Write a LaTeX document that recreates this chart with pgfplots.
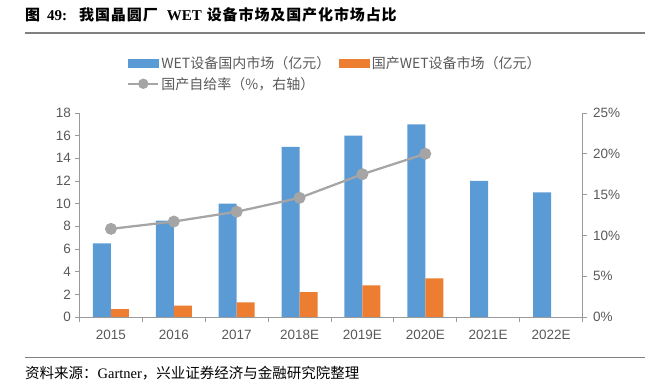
\documentclass[border=0pt]{standalone}
\usepackage{pgfplots}
\pgfplotsset{compat=1.18}
\usepackage{fontspec}
\setmainfont{Liberation Sans}
\newfontfamily\cjk{Noto Sans CJK SC}
\newfontfamily\cjkt{Noto Sans CJK SC}[LetterSpace=6]
\newfontfamily\tnr{Liberation Serif}
\definecolor{cblue}{HTML}{5B9BD5}
\definecolor{corange}{HTML}{ED7D31}
\definecolor{cgray}{HTML}{A5A5A5}
\definecolor{axgray}{HTML}{9A9A9A}
\definecolor{txtgray}{HTML}{595959}
\definecolor{rulegray}{HTML}{808080}
\begin{document}
\begin{tikzpicture}[x=1pt,y=1pt]
\useasboundingbox (0,0) rectangle (656,390);
\node[anchor=west, inner sep=0] at (25,375) {\fontsize{15}{17}\selectfont\bfseries\cjkt 图\hspace{7pt}{\tnr 49:}\hspace{12pt}我国晶圆厂\hspace{9pt}{\tnr WET}\hspace{5pt}设备市场及国产化市场占比};
\draw[rulegray, line width=1.2pt] (25,357) -- (645,357);
\draw[rulegray, line width=0.8pt] (25,33) -- (645,33);
\node[anchor=west, inner sep=0] at (25,17) {\cjk\fontsize{14.5}{16}\selectfont 资料来源：{\tnr Gartner}，兴业证券经济与金融研究院整理};

\pgfplotsset{
  base/.style={
    at={(79.5pt,73pt)}, anchor=south west,
    width=503pt, height=204pt, scale only axis,
    xmin=-0.5, xmax=7.5,
    axis line style={axgray, line width=0.75pt},
    tick style={axgray, line width=0.75pt},
    tick align=outside,
    major tick length=5pt,
    minor tick length=5pt,
    ticklabel style={font=\fontsize{13.5}{16}\selectfont, text=txtgray},
    /pgf/number format/assume math mode=true,
  }
}

\begin{axis}[base,
  ybar, bar width=18pt,
  axis x line*=bottom, axis y line*=left,
  ymin=0, ymax=18, ytick={0,2,...,18},
  xtick={0,...,7},
  xticklabels={2015,2016,2017,2018E,2019E,2020E,2021E,2022E},
  minor xtick={-0.5,0.5,...,7.5},
  x tick style={draw=none},
  minor x tick style={draw=axgray, line width=0.75pt},
  xticklabel style={yshift=-4.5pt},
]
\addplot[fill=cblue, draw=none, bar shift=-9pt] coordinates {(0,6.5)(1,8.5)(2,10)(3,15)(4,16)(5,17)(6,12)(7,11)};
\addplot[fill=corange, draw=none, bar shift=9pt] coordinates {(0,0.7)(1,1.0)(2,1.3)(3,2.2)(4,2.8)(5,3.4)};
\end{axis}

\begin{axis}[base,
  axis x line=none, axis y line*=right,
  ymin=0, ymax=25, ytick={0,5,...,25},
  yticklabels={0\%,5\%,10\%,15\%,20\%,25\%},
  yticklabel style={xshift=2pt},
  legend columns=2,
  legend cell align=left,
  legend style={at={(0.0944,1.29)}, anchor=north west, draw=none, fill=none,
    inner sep=0pt, font=\cjk\fontsize{14}{17}\selectfont, text=txtgray,
    row sep=3.5pt,
    /tikz/every even column/.append style={column sep=7pt},
    nodes={inner sep=2pt}},
]
\addlegendimage{legend image code/.code={\fill[cblue] (0pt,-4pt) rectangle (30pt,4pt);}}
\addlegendentry{WET设备国内市场（亿元）}
\addlegendimage{legend image code/.code={\fill[corange] (0pt,-4pt) rectangle (30pt,4pt);}}
\addlegendentry{国产WET设备市场（亿元）}
\addplot[cgray, line width=2.25pt, mark=*, mark size=4.8pt, mark options={fill=cgray, draw=none},
  legend image code/.code={\draw[mark repeat=2,mark phase=2, mark size=4pt] plot coordinates {(0pt,0pt)(15pt,0pt)(30pt,0pt)};}]
  coordinates {(0,10.8)(1,11.7)(2,12.9)(3,14.6)(4,17.5)(5,20.0)};
\addlegendentry{国产自给率（\%，右轴）}
\end{axis}
\end{tikzpicture}
\end{document}
